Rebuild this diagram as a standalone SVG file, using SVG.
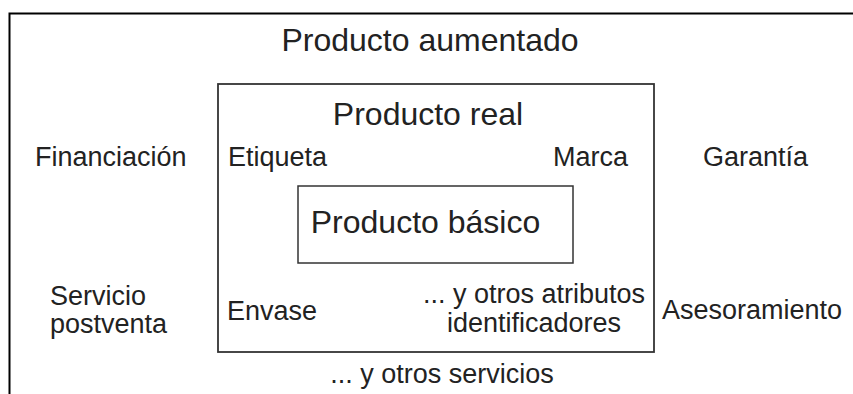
<svg xmlns="http://www.w3.org/2000/svg" width="853" height="394" viewBox="0 0 853 394">
<style>
text { font-family: "Liberation Sans", Arial, Helvetica, sans-serif; fill: #222; }
.h { font-size: 32px; }
.l { font-size: 27px; }
.box { fill: none; }
</style>
<rect width="853" height="394" fill="#ffffff"/>
<g id="aumentado">
  <rect class="box" x="9.5" y="13.5" width="900" height="500" stroke="#000" stroke-width="2"/>
  <text class="h" x="430" y="51" text-anchor="middle">Producto aumentado</text>
  <text class="l" x="35" y="166">Financiación</text>
  <text class="l" x="703" y="166">Garantía</text>
  <text class="l" x="50" y="305">Servicio</text>
  <text class="l" x="50" y="333">postventa</text>
  <text class="l" x="662" y="319">Asesoramiento</text>
  <text class="l" x="442" y="383" text-anchor="middle">... y otros servicios</text>
</g>
<g id="real">
  <rect class="box" x="218" y="84" width="436" height="268" stroke="#333" stroke-width="1.8"/>
  <text class="h" x="428" y="125" text-anchor="middle">Producto real</text>
  <text class="l" x="228" y="166">Etiqueta</text>
  <text class="l" x="628" y="166" text-anchor="end">Marca</text>
  <text class="l" x="227" y="320">Envase</text>
  <text class="l" x="534" y="303" text-anchor="middle">... y otros atributos</text>
  <text class="l" x="534" y="332" text-anchor="middle">identificadores</text>
</g>
<g id="basico">
  <rect class="box" x="298" y="186" width="275" height="77" stroke="#333" stroke-width="1.5"/>
  <text class="h" x="425.5" y="233" text-anchor="middle">Producto básico</text>
</g>
<g id="connectors"></g>
</svg>
